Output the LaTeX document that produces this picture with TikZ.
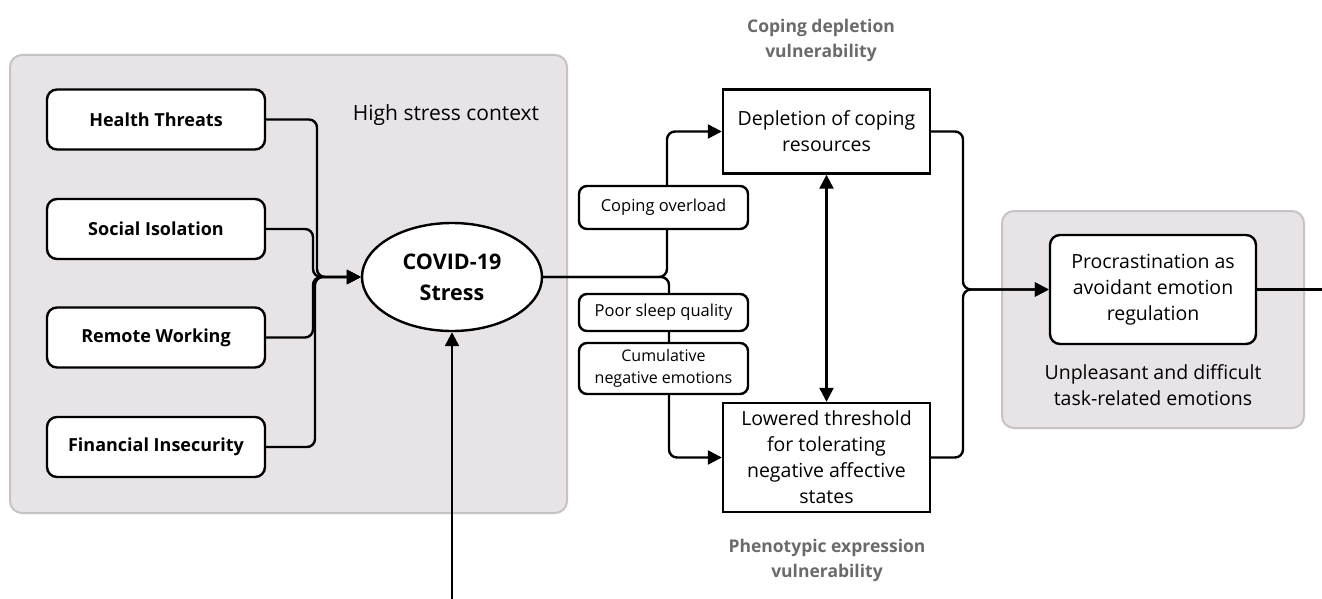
\documentclass[tikz,border=0pt]{standalone}
\usepackage{fontspec}
\setmainfont{Open Sans}
\usetikzlibrary{arrows.meta,shapes.geometric}
\definecolor{ctxfill}{HTML}{E7E3E7}
\definecolor{ctxdraw}{HTML}{C6C2C6}
\definecolor{titlegray}{HTML}{6A6A6A}
\begin{document}
\begin{tikzpicture}[x=1pt,y=-1pt,
  cont/.style={draw=ctxdraw, line width=2pt, fill=ctxfill, rounded corners=12pt, inner sep=0pt},
  srcbox/.style={draw, line width=2.4pt, fill=white, rounded corners=10pt, minimum width=218pt, minimum height=60pt, inner sep=0pt, font=\bfseries\fontsize{18}{24}\selectfont},
  sqbox/.style={draw, line width=2.4pt, fill=white, minimum width=207pt, inner sep=0pt, align=center, font=\fontsize{19.5}{26}\selectfont},
  labbox/.style={draw, line width=2.4pt, fill=white, rounded corners=8pt, minimum width=169pt, inner sep=0pt, align=center, font=\fontsize{16.5}{23}\selectfont},
  gtitle/.style={align=center, text=titlegray, font=\bfseries\fontsize{17.5}{25}\selectfont},
  plain/.style={align=center, font=\fontsize{19.5}{26}\selectfont},
  conn/.style={line width=2.4pt, rounded corners=8pt},
  arr/.style={-{Triangle[length=14pt,width=14pt]}},
  darr/.style={{Triangle[length=14pt,width=14pt]}-{Triangle[length=14pt,width=14pt]}}
]
\useasboundingbox (0,0) rectangle (1322,599);
% containers
\node[cont, minimum width=557pt, minimum height=458pt] (ctx) at (288.5,284) {};
\node[cont, minimum width=302pt, minimum height=217pt] (ctx2) at (1153,319.5) {};
\node[plain, font=\fontsize{21}{26}\selectfont] (hsc) at (446,115) {High stress context};
\node[plain] (unp) at (1153,385.5) {Unpleasant and difficult\\task-related emotions};
% source boxes
\node[srcbox] (ht) at (156,119.5) {Health Threats};
\node[srcbox] (si) at (156,229) {Social Isolation};
\node[srcbox] (rw) at (156,337.5) {Remote Working};
\node[srcbox] (fi) at (156,447) {Financial Insecurity};
% ellipse
\node[ellipse, draw, line width=2.4pt, fill=white, minimum width=180pt, minimum height=108pt, inner sep=0pt, align=center, font=\bfseries\fontsize{21.5}{31}\selectfont] (cov) at (452,277) {COVID-19\\Stress};
% vulnerability boxes
\node[sqbox, minimum height=84pt] (dep) at (826.5,131.5) {Depletion of coping\\resources};
\node[sqbox, minimum height=109pt] (low) at (826.5,457.5) {Lowered threshold\\for tolerating\\negative affective\\states};
\node[gtitle] (t1) at (821,40) {Coping depletion\\vulnerability};
\node[gtitle] (t2) at (827,560) {Phenotypic expression\\vulnerability};
% procrastination
\node[draw, line width=2.4pt, fill=white, rounded corners=10pt, minimum width=206pt, minimum height=109pt, inner sep=0pt, align=center, font=\fontsize{19.5}{26}\selectfont] (proc) at (1153,289.5) {Procrastination as\\avoidant emotion\\regulation};
% junction coordinates
\coordinate (j1) at (317,277);
\coordinate (j2) at (313,277);
\coordinate (j3) at (313,277);
\coordinate (j4) at (315,277);
\coordinate (k1) at (667,277);
\coordinate (k2) at (669,277);
\coordinate (r1) at (963,289.5);
\coordinate (bot) at (452,599);
\coordinate (out) at (1322,289.5);
% connectors
\draw[conn,arr] (ht.east) -| (j1) -- (cov.west);
\draw[conn,arr] (si.east) -| (j2) -- (cov.west);
\draw[conn,arr] (rw.east) -| (j3) -- (cov.west);
\draw[conn,arr] (fi.east) -| (j4) -- (cov.west);
\draw[conn,arr] (bot) -- (cov.south);
\draw[conn,arr] (cov.east) -- (k1) |- (dep.west);
\draw[conn,arr] (cov.east) -- (k2) |- (low.west);
\draw[conn,darr] (dep.south) -- (low.north);
\draw[conn,arr] (dep.east) -| (r1) -- (proc.west);
\draw[conn,arr] (low.east) -| (r1) -- (proc.west);
\draw[conn] (proc.east) -- (out);
% labels on connectors
\node[labbox, minimum height=43pt] (l1) at (663.5,207.5) {Coping overload};
\node[labbox, minimum height=37pt] (l2) at (663.5,312.5) {Poor sleep quality};
\node[labbox, minimum height=51pt, font=\fontsize{16}{22}\selectfont] (l3) at (663.5,368.5) {Cumulative\\negative emotions};
\end{tikzpicture}
\end{document}
